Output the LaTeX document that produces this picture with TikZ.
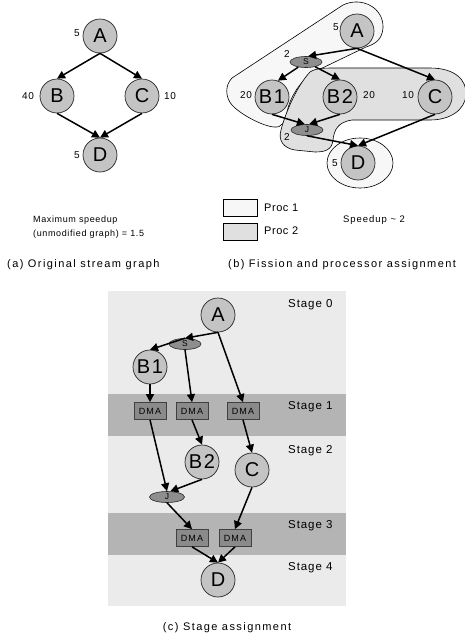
\documentclass[tikz,border=0pt]{standalone}
\usepackage{fontspec}
\setmainfont{Liberation Sans}
\newfontfamily\lsp[LetterSpace=8]{Liberation Sans}
\newfontfamily\lspc[LetterSpace=13]{Liberation Sans}
\newfontfamily\lspm[LetterSpace=7]{Liberation Sans}
\newfontfamily\lspd[LetterSpace=12]{Liberation Sans}
\newfontfamily\lspp[LetterSpace=5]{Liberation Sans}
\newfontfamily\lsps[LetterSpace=10]{Liberation Sans}
\usetikzlibrary{arrows.meta,shapes.geometric}
\definecolor{nodegray}{HTML}{C4C4C4}
\definecolor{ellgray}{HTML}{8E8E8E}
\definecolor{procone}{HTML}{F7F7F7}
\definecolor{proctwo}{HTML}{E0E0E0}
\definecolor{stagebg}{HTML}{EBEBEB}
\definecolor{stageband}{HTML}{B4B4B4}
\definecolor{dmafill}{HTML}{8A8A8A}
\begin{document}
\begin{tikzpicture}[x=1pt,y=-1pt,
  filt/.style={circle,draw=black!85,line width=0.7pt,fill=nodegray,minimum size=34pt,inner sep=0pt,font=\lsp\fontsize{20}{20}\selectfont},
  splt/.style={ellipse,draw=black!85,line width=0.6pt,fill=ellgray,minimum width=32pt,minimum height=11pt,inner sep=0pt,font=\lsp\fontsize{8.5}{8.5}\selectfont},
  dmabox/.style={rectangle,draw=black!75,line width=0.7pt,fill=dmafill,minimum width=32pt,minimum height=17pt,inner sep=0pt,font=\lspd\fontsize{9}{9}\selectfont},
  wt/.style={font=\lsp\fontsize{10}{10}\selectfont,inner sep=0pt},
  lbl/.style={font=\lspm\fontsize{9}{9}\selectfont,inner sep=0pt,anchor=west},
  captext/.style={font=\lspc\fontsize{11}{11}\selectfont,inner sep=0pt},
  stg/.style={font=\lsp\fontsize{11.5}{11.5}\selectfont,inner sep=0pt,anchor=west},
  proctext/.style={font=\lspp\fontsize{11}{11}\selectfont,inner sep=0pt,anchor=west},
  flow/.style={line width=1.5pt,-{Triangle[length=8pt,width=8pt]}},
  blob/.style={draw=black,line width=0.6pt}
]
\useasboundingbox (0,0) rectangle (465,640);

% ---------- panel (a)
\node[filt] (aA) at (100,36) {A};
\node[filt] (aB) at (57,96) {B};
\node[filt] (aC) at (142,96) {C};
\node[filt] (aD) at (100,155) {D};
\node[wt] (waA) at (77,33) {5};
\node[wt] (waB) at (28,96) {40};
\node[wt] (waC) at (170,96) {10};
\node[wt] (waD) at (77,155) {5};
\draw[flow] (aA.south) -- (aB.north);
\draw[flow] (aA.south) -- (aC.north);
\draw[flow] (aB.south) -- (aD.north);
\draw[flow] (aC.south) -- (aD.north);
\node[lbl] (maxa) at (33,220) {Maximum speedup};
\node[lbl] (maxb) at (33,234) {(unmodified graph) = 1.5};
\node[captext,anchor=west] (capa) at (7,265) {(a) Original stream graph};

% ---------- panel (b)
\path[blob,fill=procone] (232,78) -- (343,5) .. controls (362,-4) and (384,8) .. (383,28)
  .. controls (382,40) and (375,44) .. (366,47) -- (312,73)
  .. controls (298,84) and (290,98) .. (287,112)
  .. controls (285,122) and (282,128) .. (274,127)
  .. controls (262,126) and (240,114) .. (232,105)
  .. controls (225,97) and (225,85) .. (232,78) -- cycle;
\path[blob,fill=proctwo] (310,72) .. controls (316,68) and (325,68) .. (335,68) -- (430,68)
  .. controls (455,68) and (467,80) .. (466,95)
  .. controls (465,110) and (450,120) .. (430,120) -- (352,120)
  .. controls (338,122) and (334,130) .. (333,140)
  .. controls (332,150) and (325,152) .. (315,152) -- (295,150)
  .. controls (283,148) and (278,140) .. (281,130)
  .. controls (284,118) and (295,88) .. (310,72) -- cycle;
\draw[blob,fill=procone] (360,163) ellipse[x radius=33,y radius=25];

\node[filt] (bA) at (357,31) {A};
\node[splt] (bS) at (306,62) {S};
\node[filt] (bB1) at (272,97) {B1};
\node[filt] (bB2) at (340,97) {B2};
\node[filt] (bC) at (435,97) {C};
\node[splt] (bJ) at (307,130) {J};
\node[filt] (bD) at (358,163) {D};
\node[wt] (wbA) at (336,27) {5};
\node[wt] (wbS) at (287,54) {2};
\node[wt] (wbB1) at (246,95) {20};
\node[wt] (wbB2) at (369,95) {20};
\node[wt] (wbC) at (408,95) {10};
\node[wt] (wbJ) at (287,137) {2};
\node[wt] (wbD) at (335,163) {5};
\draw[flow] (bA.south) -- (bS.70);
\draw[flow] (bA.south) -- (bC.north);
\draw[flow] (bS) -- (bB1.70);
\draw[flow] (bS) -- (bB2.north);
\draw[flow] (bB1.south) -- (bJ.110);
\draw[flow] (bB2.south) -- (bJ.70);
\draw[flow] (bJ.south) -- (bD.north);
\draw[flow] (bC.south) -- (bD.north);

\draw[blob,fill=procone] (223,199) rectangle (257,216);
\draw[blob,fill=proctwo] (223,223) rectangle (257,240);
\node[proctext] (p1) at (264,208) {Proc 1};
\node[proctext] (p2) at (264,231) {Proc 2};
\node[font=\lsps\fontsize{9.5}{9.5}\selectfont,inner sep=0pt,anchor=west] (spd) at (343,220) {Speedup \textasciitilde{} 2};
\node[captext,anchor=west] (capb) at (228,265) {(b) Fission and processor assignment};

% ---------- panel (c)
\fill[stagebg] (108,291) rectangle (346,606);
\fill[stageband] (108,394) rectangle (346,436);
\fill[stageband] (108,513) rectangle (346,555);
\node[stg] (s0) at (288,305) {Stage 0};
\node[stg] (s1) at (288,407) {Stage 1};
\node[stg] (s2) at (288,451) {Stage 2};
\node[stg] (s3) at (288,526) {Stage 3};
\node[stg] (s4) at (288,568) {Stage 4};

\node[filt] (cA) at (218,315) {A};
\node[splt] (cS) at (185,344) {S};
\node[filt] (cB1) at (150,367) {B1};
\node[dmabox] (d1) at (150,411) {DMA};
\node[dmabox] (d2) at (192,411) {DMA};
\node[dmabox] (d3) at (243,411) {DMA};
\node[filt] (cB2) at (202,462) {B2};
\node[filt] (cC) at (252,470) {C};
\node[splt,minimum width=35pt] (cJ) at (167,497) {J};
\node[dmabox] (d4) at (192,538) {DMA};
\node[dmabox] (d5) at (235,538) {DMA};
\node[filt] (cD) at (218,580) {D};
\draw[flow] (cA.south) -- (cS.north);
\draw[flow] (cS.north) -- (cB1.north);
\draw[flow] (cS.south) -- (d2.north);
\draw[flow] (cA.south) -- (d3.north);
\draw[flow] (cB1.south) -- (d1.north);
\draw[flow] (d1.south) -- (cJ.north);
\draw[flow] (d2.south) -- (cB2.north);
\draw[flow] (d3.south) -- (cC.north);
\draw[flow] (cB2.south) -- (cJ.60);
\draw[flow] (cJ.south) -- (d4.north);
\draw[flow] (cC.south) -- (d5.north);
\draw[flow] (d4.south) -- (cD.north);
\draw[flow] (d5.south) -- (cD.north);
\node[captext] (capc) at (227,628) {(c) Stage assignment};
\end{tikzpicture}
\end{document}
